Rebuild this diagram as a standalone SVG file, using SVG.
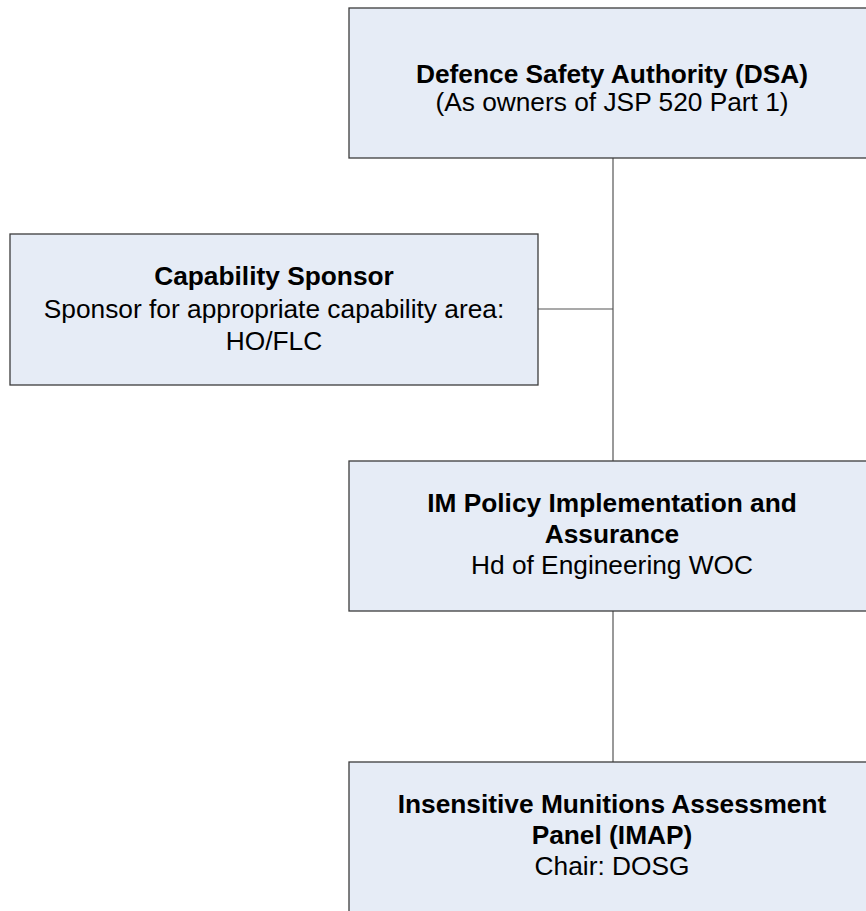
<svg xmlns="http://www.w3.org/2000/svg" width="866" height="911" viewBox="0 0 866 911">
  <style>
    .box { fill: #e6ecf6; stroke: #3c3c3c; stroke-width: 1.3; }
    .link { stroke: #555555; stroke-width: 1.2; fill: none; }
    text { font-family: "Liberation Sans", Arial, sans-serif; font-size: 26.3px; fill: #000000; text-anchor: middle; }
    .title { font-weight: bold; }
  </style>
  <rect width="866" height="911" fill="#ffffff"/>

  <!-- connectors -->
  <g id="connectors">
    <line class="link" x1="613" y1="158" x2="613" y2="461"/>
    <line class="link" x1="538" y1="309" x2="613" y2="309"/>
    <line class="link" x1="613" y1="611" x2="613" y2="762"/>
  </g>

  <g id="dsa">
    <rect class="box" x="349" y="8" width="530" height="150"/>
    <text class="title" x="612" y="83">Defence Safety Authority (DSA)</text>
    <text x="612" y="111">(As owners of JSP 520 Part 1)</text>
  </g>

  <g id="capability-sponsor">
    <rect class="box" x="10" y="234" width="528" height="151"/>
    <text class="title" x="274" y="285">Capability Sponsor</text>
    <text x="274" y="318">Sponsor for appropriate capability area:</text>
    <text x="274" y="350">HO/FLC</text>
  </g>

  <g id="im-policy">
    <rect class="box" x="349" y="461" width="530" height="150"/>
    <text class="title" x="612" y="512">IM Policy Implementation and</text>
    <text class="title" x="612" y="543">Assurance</text>
    <text x="612" y="574">Hd of Engineering WOC</text>
  </g>

  <g id="imap">
    <rect class="box" x="349" y="762" width="530" height="160"/>
    <text class="title" x="612" y="813">Insensitive Munitions Assessment</text>
    <text class="title" x="612" y="844">Panel (IMAP)</text>
    <text x="612" y="875">Chair: DOSG</text>
  </g>
</svg>
